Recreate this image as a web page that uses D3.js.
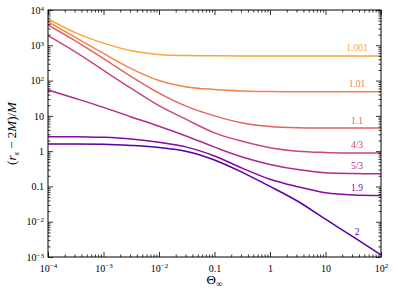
<!DOCTYPE html>
<html>
<head>
<meta charset="utf-8">
<script src="https://cdn.jsdelivr.net/npm/d3@7"></script>
<style>
  body { margin: 0; background: #fff; }
  svg { display: block; font-family: "Liberation Serif", "DejaVu Serif", serif; }
  .tick text { font-family: "Liberation Serif", serif; }
</style>
</head>
<body>
<svg id="chart"></svg>
<script>
var svgWidth = 394, svgHeight = 293;
var margin = {top: 10, right: 13, bottom: 36, left: 48};

// Theta_inf sample points (half decades)
var theta = [1e-4, 3.16e-4, 1e-3, 3.16e-3, 1e-2, 3.16e-2, 0.1, 0.316, 1, 3.16, 10, 31.6, 100];

var gammaLabels = ["1.001", "1.01", "1.1", "4/3", "5/3", "1.9", "2"];
var gammaColorT = [0.8, 0.7, 0.6, 0.5, 0.4, 0.28, 0.15];

var rs1001 = [5560, 2250, 1150, 700, 550, 510, 502, 500, 500, 500, 500, 500, 500];
var rs101  = [4650, 1648, 588, 218, 100, 66, 56, 51, 49, 48.3, 48, 48, 48];
var rs11   = [3760, 1320, 420, 130, 44, 18.5, 10, 6.3, 5.0, 4.62, 4.53, 4.5, 4.5];
var rs43   = [1870, 638, 195, 60, 19.5, 7.8, 3.3, 1.9, 1.25, 1.0, 0.92, 0.89, 0.88];
var rs53   = [54, 31, 17.4, 9.3, 5.1, 2.65, 1.3, 0.68, 0.42, 0.3, 0.245, 0.232, 0.228];
var rs19   = [2.57, 2.57, 2.46, 2.2, 1.78, 1.3, 0.73, 0.33, 0.16, 0.098, 0.066, 0.057, 0.055];
var rs2    = [1.6, 1.6, 1.57, 1.45, 1.27, 0.98, 0.56, 0.25, 0.1, 0.038, 0.0118, 0.0037, 0.00115];

var series = [rs1001, rs101, rs11, rs43, rs53, rs19, rs2];

var xTicks = [1e-4, 1e-3, 1e-2, 0.1, 1, 10, 100];
var xTickLabels = [["10", "\u22124"], ["10", "\u22123"], ["10", "\u22122"], ["0.1", ""], ["1", ""], ["10", ""], ["10", "2"]];
var yTicks = [1e4, 1e3, 1e2, 10, 1, 0.1, 1e-2, 1e-3];
var yTickLabels = [["10", "4"], ["10", "3"], ["10", "2"], ["10", ""], ["1", ""], ["0.1", ""], ["10", "\u22122"], ["10", "\u22123"]];

// where the curve labels sit (Theta value)
var labelTheta = 37;

var w = svgWidth - margin.left - margin.right,
    h = svgHeight - margin.top - margin.bottom;

var svg = d3.select("#chart")
    .attr("width", svgWidth)
    .attr("height", svgHeight);

var g = svg.append("g")
    .attr("transform", "translate(" + margin.left + "," + margin.top + ")");

var x = d3.scaleLog().domain([1e-4, 100]).range([0, w]);
var y = d3.scaleLog().domain([1e-3, 1e4]).range([h, 0]);

function minors(lo, hi) {
  var out = [];
  for (var e = lo; e < hi; e++) {
    for (var k = 2; k <= 9; k++) out.push(k * Math.pow(10, e));
  }
  return out;
}
var xMinor = minors(-4, 2), yMinor = minors(-3, 4);

// curves
var line = d3.line()
    .x(d => x(d[0]))
    .y(d => y(d[1]))
    .curve(d3.curveMonotoneX);

series.forEach(function(s, i) {
  var pts = theta.map((t, j) => [t, s[j]]);
  var col = d3.interpolatePlasma(gammaColorT[i]);
  g.append("path")
    .datum(pts)
    .attr("d", line)
    .attr("fill", "none")
    .attr("stroke", col)
    .attr("stroke-width", 1.5);

  // label above the curve
  var yv = Math.exp(d3.scaleLinear().domain(theta.map(Math.log)).range(s.map(Math.log))(Math.log(labelTheta)));
  g.append("text")
    .attr("x", x(labelTheta))
    .attr("y", y(yv) - 4.5)
    .attr("text-anchor", "middle")
    .attr("font-size", 9.5)
    .attr("fill", col)
    .text(gammaLabels[i]);
});

// axes with inward ticks
function addAxis(axis, transform, ticks, size) {
  var a = g.append("g")
    .attr("transform", transform)
    .call(axis.tickValues(ticks).tickSize(-size).tickSizeOuter(0).tickFormat(""));
  a.select(".domain").remove();
  a.selectAll("line").attr("stroke", "#000").attr("stroke-width", 0.8);
  return a;
}

addAxis(d3.axisBottom(x), "translate(0," + h + ")", xMinor, 2.5);
addAxis(d3.axisTop(x), "translate(0,0)", xMinor, 2.5);
addAxis(d3.axisLeft(y), "translate(0,0)", yMinor, 2.5);
addAxis(d3.axisRight(y), "translate(" + w + ",0)", yMinor, 2.5);

addAxis(d3.axisTop(x), "translate(0,0)", xTicks, 5);
addAxis(d3.axisRight(y), "translate(" + w + ",0)", yTicks, 5);

var xb = g.append("g")
    .attr("transform", "translate(0," + h + ")")
    .call(d3.axisBottom(x).tickValues(xTicks).tickSize(-5).tickSizeOuter(0).tickPadding(5).tickFormat(""));
var yl = g.append("g")
    .call(d3.axisLeft(y).tickValues(yTicks).tickSize(-5).tickSizeOuter(0).tickPadding(4).tickFormat(""));
[xb, yl].forEach(function(a) {
  a.select(".domain").remove();
  a.selectAll("line").attr("stroke", "#000").attr("stroke-width", 0.8);
});

function fillLabel(sel, parts) {
  sel.text(null).attr("font-size", 10).attr("fill", "#000");
  sel.append("tspan").text(parts[0]);
  if (parts[1]) {
    sel.append("tspan")
      .attr("dy", "-0.45em")
      .attr("font-size", 7)
      .text(parts[1]);
  }
}

xb.selectAll(".tick text").each(function(d, i) {
  fillLabel(d3.select(this).attr("dy", "0.95em"), xTickLabels[i]);
});
yl.selectAll(".tick text").each(function(d, i) {
  fillLabel(d3.select(this), yTickLabels[i]);
});

// frame
g.append("rect")
  .attr("width", w)
  .attr("height", h)
  .attr("fill", "none")
  .attr("stroke", "#000")
  .attr("stroke-width", 1);

// axis titles
var xt = svg.append("text")
  .attr("x", margin.left + w / 2)
  .attr("y", 284)
  .attr("text-anchor", "middle")
  .attr("font-size", 13);
xt.append("tspan").text("\u0398");
xt.append("tspan").attr("font-size", 9).attr("dy", "0.3em").text("\u221e");

var yt = svg.append("text")
  .attr("transform", "translate(16," + (margin.top + h / 2) + ") rotate(-90)")
  .attr("text-anchor", "middle")
  .attr("font-size", 13);
yt.append("tspan").text("(");
yt.append("tspan").attr("font-style", "italic").text("r");
yt.append("tspan").attr("font-style", "italic").attr("font-size", 9).attr("dy", "0.3em").text("s");
yt.append("tspan").attr("dy", "-0.23em").text(" \u2212 2");
yt.append("tspan").attr("font-style", "italic").text("M");
yt.append("tspan").text(")/");
yt.append("tspan").attr("font-style", "italic").text("M");
</script>
</body>
</html>
